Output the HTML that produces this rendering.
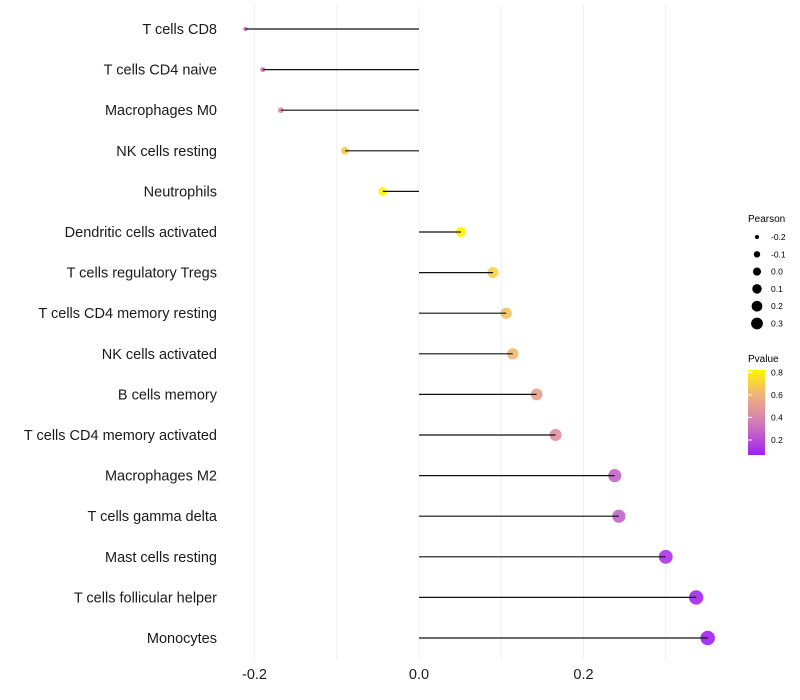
<!DOCTYPE html>
<html><head><meta charset="utf-8"><style>
body{margin:0;background:#fff;}
svg{display:block;font-family:"Liberation Sans",sans-serif;}
</style></head><body>
<svg id="chart" width="800" height="700">
<defs>
<linearGradient id="pg" x1="0" y1="1" x2="0" y2="0">
<stop offset="0" stop-color="#A020F0"/>
<stop offset="0.376" stop-color="#D27BB8"/>
<stop offset="0.707" stop-color="#F0B27A"/>
<stop offset="1" stop-color="#FFF500"/>
</linearGradient>
</defs>
<g id="grid"></g>
<g id="dots"></g>
<g id="marks"></g>
<g id="ylab"></g>
<g id="xlab"></g>
<g id="sleg">
<text x="748" y="222" font-size="10">Pearson</text>
</g>
<g>
<text x="748" y="362" font-size="10">Pvalue</text>
<rect x="748" y="370" width="17" height="85" fill="url(#pg)"/>
<g id="cleg"></g>
</g>
</svg>
<script>
const categories=["T cells CD8","T cells CD4 naive","Macrophages M0","NK cells resting","Neutrophils","Dendritic cells activated","T cells regulatory  Tregs ","T cells CD4 memory resting","NK cells activated","B cells memory","T cells CD4 memory activated","Macrophages M2","T cells gamma delta","Mast cells resting","T cells follicular helper","Monocytes"];
const pearson=[-0.211,-0.19,-0.168,-0.09,-0.044,0.051,0.09,0.106,0.114,0.143,0.166,0.238,0.243,0.30,0.337,0.351];
const pvalue=[0.30,0.35,0.45,0.68,0.82,0.82,0.70,0.65,0.62,0.52,0.45,0.27,0.27,0.13,0.09,0.07];
const xTicks=[-0.2,0,0.2];
const xTickLabels=["-0.2","0.0","0.2"];
const gridVals=[-0.2,-0.1,0,0.1,0.2,0.3];
const sizeLegendVals=[-0.2,-0.1,0,0.1,0.2,0.3];
const sizeLegendLabels=["-0.2","-0.1","0.0","0.1","0.2","0.3"];
const colorLegendVals=[0.2,0.4,0.6,0.8];
const colorLegendLabels=["0.2","0.4","0.6","0.8"];

const NS="http://www.w3.org/2000/svg";
const x=v=>419+v*822.5;
const y=i=>29+i*40.6;
const r=v=>Math.sqrt(4+(v+0.22)*85);
const cy=p=>455-(p-0.067)/(0.82-0.067)*85;
const stops=[[0.067,[160,32,240]],[0.35,[210,123,184]],[0.6,[240,178,122]],[0.82,[255,245,0]]];
function col(p){p=Math.max(0.067,Math.min(0.82,p));for(let k=0;k<stops.length-1;k++){const[a,ca]=stops[k],[b,cb]=stops[k+1];if(p<=b){const t=(p-a)/(b-a);return "rgb("+ca.map((c,j)=>Math.round(c+(cb[j]-c)*t)).join(",")+")";}}return "rgb(255,245,0)";}
function mk(t,a,par){const e=document.createElementNS(NS,t);for(const k in a)e.setAttribute(k,a[k]);document.getElementById(par).appendChild(e);return e;}
gridVals.forEach(v=>{const l=mk("line",{x1:x(v),x2:x(v),y1:5,y2:660,stroke:"#f0f0f0","stroke-width":1},"grid");

});
categories.forEach((c,i)=>{
const t=mk("text",{x:217,y:y(i)+5,"text-anchor":"end","font-size":14.5,fill:"#1a1a1a"},"ylab");t.textContent=c;


const d=mk("circle",{cx:x(pearson[i]),cy:y(i),r:r(pearson[i]),fill:col(pvalue[i]),"fill-opacity":0.9},"dots");


const l=mk("line",{x1:x(0),x2:x(pearson[i]),y1:y(i),y2:y(i),stroke:"#111","stroke-width":1.2},"marks");


});
xTicks.forEach((v,i)=>{const t=mk("text",{x:x(v),y:679,"text-anchor":"middle","font-size":14.5,fill:"#1a1a1a"},"xlab");t.textContent=xTickLabels[i];

});
sizeLegendVals.forEach((v,i)=>{const yy=237+i*17.3;
const c=mk("circle",{cx:757,cy:yy,r:r(v)*0.85,fill:"#000"},"sleg");


const t=mk("text",{x:771,y:yy+3,"font-size":8.5},"sleg");t.textContent=sizeLegendLabels[i];

});
colorLegendVals.forEach((v,i)=>{const yy=cy(v);
const l=mk("line",{x1:748,x2:752,y1:yy,y2:yy,stroke:"#fff"},"cleg");


const t=mk("text",{x:771,y:yy+3,"font-size":8.5},"cleg");t.textContent=colorLegendLabels[i];

});
</script>
</body></html>
